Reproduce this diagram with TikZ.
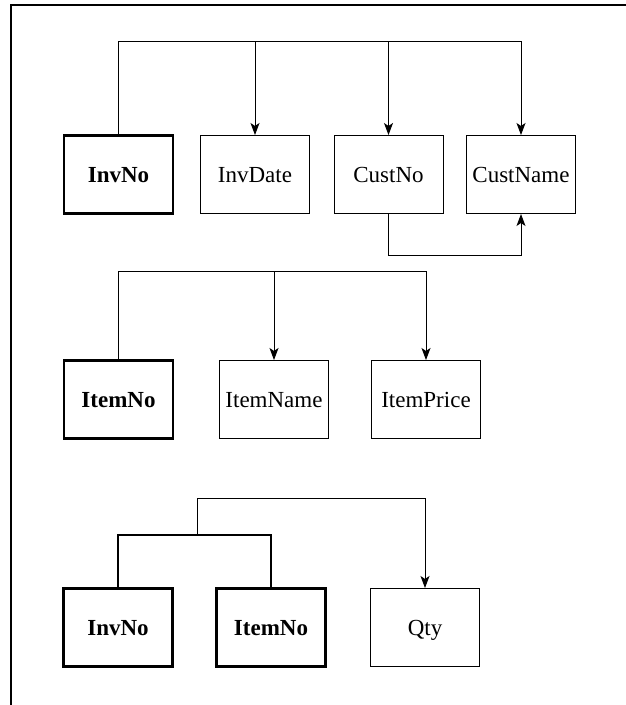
\documentclass[tikz,border=0pt]{standalone}
\usepackage{fontspec}
\setmainfont{Liberation Serif}
\usetikzlibrary{arrows.meta}
\begin{document}
\begin{tikzpicture}[x=1pt,y=-1pt,
  attr/.style={draw,line width=1pt,minimum width=109pt,minimum height=78pt,inner sep=0pt,text depth=0pt,font=\fontsize{23}{26}\selectfont},
  key/.style={attr,line width=2.6pt,font=\fontsize{23}{26}\selectfont\bfseries},
  conn/.style={line width=1pt},
  arr/.style={conn,-{Stealth[length=12pt,width=9pt,inset=3pt]}},
  thickconn/.style={line width=2.6pt}]
\useasboundingbox (0,0) rectangle (626,705);
\draw[line width=2pt] (11,705) -- (11,5) -- (626,5);
% row 1
\node[key]  (inv1)  at (118.5,174.5) {InvNo};
\node[attr] (date1) at (255,174.5) {InvDate};
\node[attr] (cno1)  at (388.5,174.5) {CustNo};
\node[attr] (cnm1)  at (521,174.5) {CustName};
\coordinate (top1) at (118.5,41);
\draw[arr] (inv1.north) -- (top1) -| (cnm1.north);
\draw[arr] (date1.north |- top1) -- (date1.north);
\draw[arr] (cno1.north |- top1) -- (cno1.north);
\draw[arr] (cno1.south) -- ++(0,41) -| (cnm1.south);
% row 2
\node[key]  (item2)  at (118.5,399.5) {ItemNo};
\node[attr] (iname2) at (274,399.5) {ItemName};
\node[attr] (iprice2) at (426,399.5) {ItemPrice};
\coordinate (top2) at (118.5,271);
\draw[arr] (item2.north) -- (top2) -| (iprice2.north);
\draw[arr] (iname2.north |- top2) -- (iname2.north);
% row 3
\node[key]  (inv3)  at (118,627.5) {InvNo};
\node[key]  (item3) at (271,627.5) {ItemNo};
\node[attr] (qty3)  at (425,627.5) {Qty};
\coordinate (br3) at (197,535);
\coordinate (top3) at (197,498);
\draw[thickconn] (inv3.north) |- (br3) -| (item3.north);
\draw[arr] (br3) -- (top3) -| (qty3.north);
\end{tikzpicture}
\end{document}
